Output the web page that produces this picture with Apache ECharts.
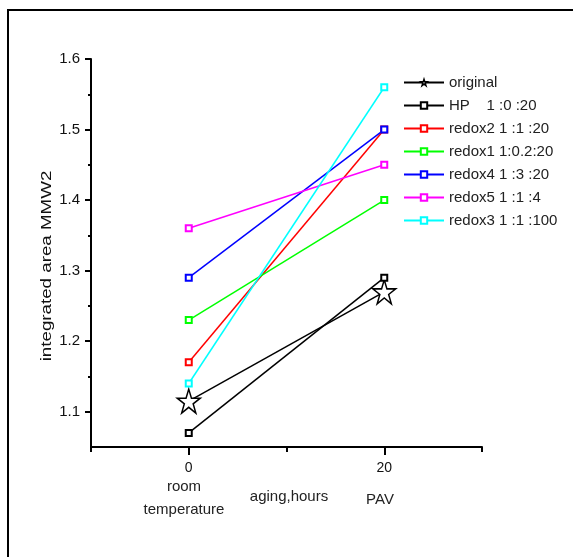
<!DOCTYPE html>
<html><head><meta charset="utf-8">
<script src="https://cdn.jsdelivr.net/npm/echarts@6/dist/echarts.min.js"></script>
<style>html,body{margin:0;padding:0;background:#fff}#c{width:573px;height:557px}</style>
</head><body><div id="c"></div>
<script>
var xValues = [0, 20];
var seriesNames = ['original', 'HP    1 :0 :20', 'redox2 1 :1 :20', 'redox1 1:0.2:20', 'redox4 1 :3 :20', 'redox5 1 :1 :4', 'redox3 1 :1 :100'];
var original = [1.115, 1.27];
var hp = [1.07, 1.29];
var redox2 = [1.17, 1.50];
var redox1 = [1.23, 1.40];
var redox4 = [1.29, 1.50];
var redox5 = [1.36, 1.45];
var redox3 = [1.14, 1.56];
var colors = ['#000000', '#000000', '#ff0000', '#00ff00', '#0000ff', '#ff00ff', '#00ffff'];
var yMajorTicks = [1.1, 1.2, 1.3, 1.4, 1.5, 1.6];
var yMinorTicks = [1.15, 1.25, 1.35, 1.45, 1.55];
var xMajorTicks = [0, 20];
var xMinorTicks = [-10, 10, 30];
var xSubLabels = ['room\ntemperature', 'aging,hours', 'PAV'];
var yTitle = 'integrated area MMW2';

var allData = [original, hp, redox2, redox1, redox4, redox5, redox3];
var FONT = '"Liberation Sans", Arial, sans-serif';
var star = 'path://M50,2 L61,36 L97,36 L68,57 L79,92 L50,70 L21,92 L32,57 L3,36 L39,36 Z';

var series = allData.map(function (vals, i) {
  return {
    name: seriesNames[i],
    type: 'line',
    xAxisIndex: 0, yAxisIndex: 0,
    data: xValues.map(function (x, j) { return [x, vals[j]]; }),
    symbol: i === 0 ? star : 'emptyRect',
    symbolSize: i === 0 ? [23, 24] : 6,
    showAllSymbol: true,
    lineStyle: { color: colors[i], width: 1.5 },
    itemStyle: i === 0 ? { color: '#fff', borderColor: colors[i], borderWidth: 1.5 } : { color: colors[i], borderWidth: 1.5 },
    emphasis: { disabled: true },
    animation: false,
    z: 3
  };
});

var chart = echarts.init(document.getElementById('c'), null, { renderer: 'canvas' });
chart.setOption({
  animation: false,
  backgroundColor: '#fff',
  grid: { left: 91, right: 91, top: 59, bottom: 110, containLabel: false },
  xAxis: [
    { type: 'value', min: -10, max: 30, interval: 10, position: 'bottom',
      axisLine: { onZero: false, lineStyle: { color: '#000', width: 2 } },
      axisTick: { show: true, length: 8, lineStyle: { color: '#000', width: 2 }, customValues: xMajorTicks },
      axisLabel: { customValues: xMajorTicks, color: '#111', fontFamily: FONT, fontSize: 14, margin: 14 },
      splitLine: { show: false } },
    { type: 'value', min: -10, max: 30, interval: 10, position: 'bottom',
      axisLine: { show: false, onZero: false },
      axisTick: { show: true, length: 5, lineStyle: { color: '#000', width: 2 }, customValues: xMinorTicks },
      axisLabel: { show: false },
      splitLine: { show: false } }
  ],
  yAxis: [
    { type: 'value', min: 1.05, max: 1.6, position: 'left',
      axisLine: { show: true, onZero: false, lineStyle: { color: '#000', width: 2 } },
      axisTick: { show: true, length: 6, lineStyle: { color: '#000', width: 2 }, customValues: yMajorTicks },
      axisLabel: { customValues: yMajorTicks, color: '#111', fontFamily: FONT, fontSize: 15, margin: 11,
        formatter: function (v) { return v.toFixed(1); } },
      splitLine: { show: false } },
    { type: 'value', min: 1.05, max: 1.6, position: 'left',
      axisLine: { show: false, onZero: false },
      axisTick: { show: true, length: 3, lineStyle: { color: '#000', width: 2 }, customValues: yMinorTicks },
      axisLabel: { show: false },
      splitLine: { show: false } }
  ],
  legend: {
    orient: 'vertical', left: 403, top: 75, padding: 0,
    itemWidth: 40, itemHeight: 8, itemGap: 8,
    textStyle: { color: '#222', fontFamily: FONT, fontSize: 15 },
    data: seriesNames.map(function (n, i) {
      return i === 0
        ? { name: n, itemStyle: { color: '#fff', borderColor: '#000', borderWidth: 1.5 } }
        : { name: n };
    }),
    selectedMode: false
  },
  graphic: [
    { type: 'polyline', shape: { points: [[8, 600], [8, 10], [600, 10]] },
      style: { stroke: '#000', lineWidth: 2, fill: null }, silent: true },
    { type: 'text', x: 47, y: 266, rotation: Math.PI / 2, scaleX: 1.25, scaleY: 1,
      style: { text: yTitle, fill: '#111', font: '15px ' + FONT, align: 'center', verticalAlign: 'middle' } },
    { type: 'text', x: 184, y: 475, style: { text: xSubLabels[0], fill: '#222', font: '15px ' + FONT, align: 'center', verticalAlign: 'top', lineHeight: 23 } },
    { type: 'text', x: 289, y: 497, style: { text: xSubLabels[1], fill: '#222', font: '15px ' + FONT, align: 'center', verticalAlign: 'middle' } },
    { type: 'text', x: 380, y: 500, style: { text: xSubLabels[2], fill: '#222', font: '15px ' + FONT, align: 'center', verticalAlign: 'middle' } }
  ],
  series: series
});
</script>
</body></html>
